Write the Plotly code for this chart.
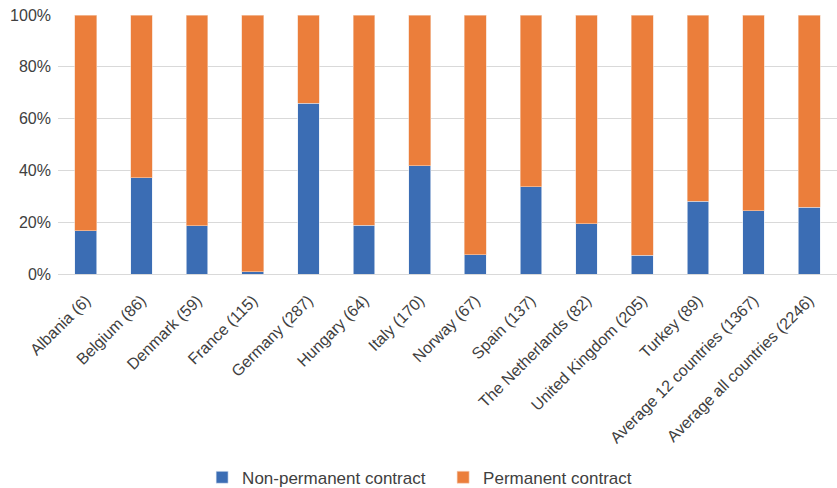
import plotly.graph_objects as go

categories = ["Albania (6)", "Belgium (86)", "Denmark (59)", "France (115)", "Germany (287)",
              "Hungary (64)", "Italy (170)", "Norway (67)", "Spain (137)", "The Netherlands (82)",
              "United Kingdom (205)", "Turkey (89)", "Average 12 countries (1367)",
              "Average all countries (2246)"]
non_permanent = [0.167, 0.372, 0.186, 0.009, 0.659, 0.1875, 0.418, 0.075, 0.336, 0.195,
                 0.073, 0.28, 0.245, 0.257]
permanent = [1 - v for v in non_permanent]

BLUE = "#3B6DB4"
ORANGE = "#EB7E3B"
FONT = "Liberation Sans"
TXT = "#404040"

fig = go.Figure()
fig.add_trace(go.Bar(x=categories, y=non_permanent, name="Non-permanent contract",
                     marker=dict(color=BLUE, line=dict(color="#E8EEF7", width=0.6))))
fig.add_trace(go.Bar(x=categories, y=permanent, name="Permanent contract",
                     marker=dict(color=ORANGE, line=dict(color="#F5D3BE", width=0.6))))

fig.update_layout(
    barmode="stack",
    bargap=0.61,
    width=837, height=488,
    margin=dict(l=58, r=0, t=15, b=214, autoexpand=False),
    paper_bgcolor="white", plot_bgcolor="white",
    font=dict(family=FONT, size=16, color=TXT),
    legend=dict(orientation="h", x=0.185, xanchor="left", y=-0.717, yanchor="top",
                font=dict(size=17, color=TXT), traceorder="normal",
                entrywidth=196, entrywidthmode="pixels", itemwidth=30),
    showlegend=True,
)
fig.update_yaxes(range=[0, 1], tickformat=".0%", dtick=0.2, showgrid=True,
                 gridcolor="#D9D9D9", gridwidth=1, zeroline=True, zerolinecolor="#D9D9D9",
                 zerolinewidth=1, showline=False, ticks="", ticklabelstandoff=6,
                 automargin=False, tickfont=dict(size=16, color=TXT))
fig.update_xaxes(tickangle=-45, showgrid=False, showline=False, ticks="",
                 automargin=False, ticklabelstandoff=13,
                 tickfont=dict(size=16, color=TXT))

fig.write_html("out.html")
